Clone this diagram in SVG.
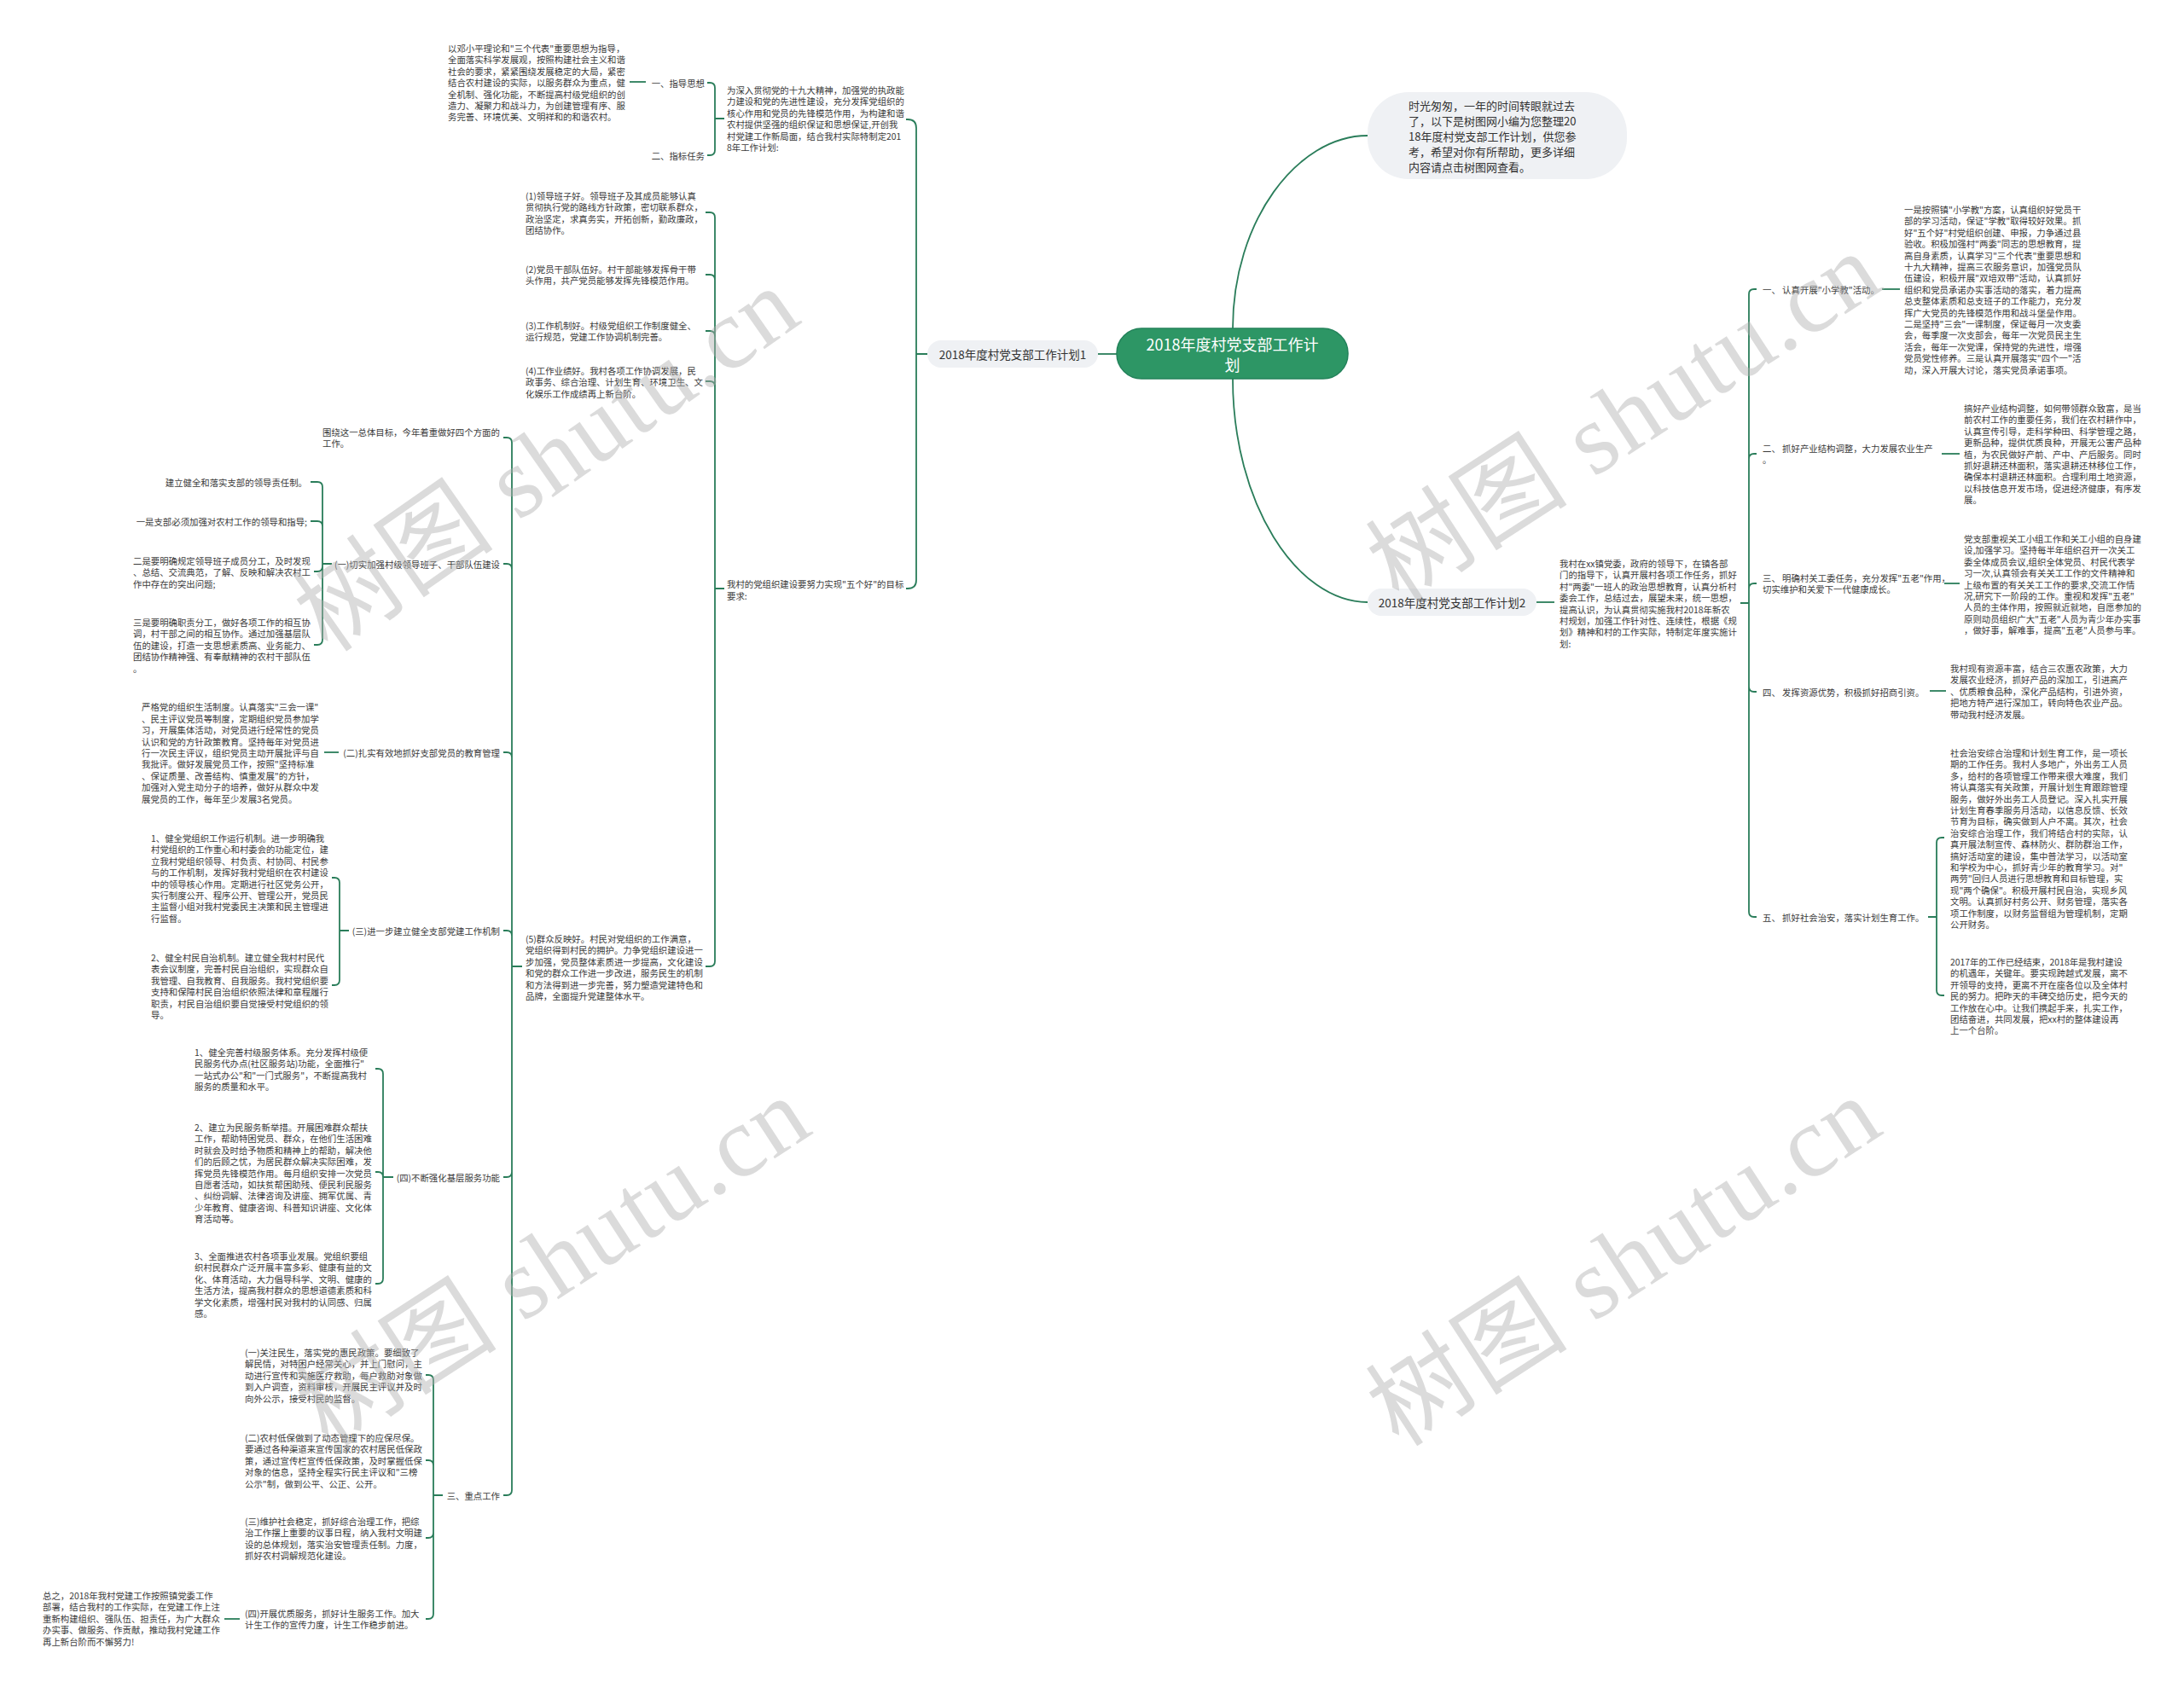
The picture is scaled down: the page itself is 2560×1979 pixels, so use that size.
<svg xmlns="http://www.w3.org/2000/svg" width="2560" height="1979" viewBox="0 0 2560 1979">
<style>
.t{font-family:"Noto Sans CJK SC","Noto Sans",sans-serif;font-size:10.4px;fill:#3a3a3a;dominant-baseline:central}
.e{text-anchor:end}
.m{text-anchor:middle}
.lb{font-size:13.5px;fill:#333}
.in{font-size:13px;fill:#333}
.ct{font-size:18px;fill:#ffffff}
.box{fill:#eff1f4}
.c path{fill:none;stroke:#2a7d5a;stroke-width:1.8}
.wm{font-family:"Liberation Serif","Noto Sans CJK SC",serif;font-size:118px;fill:#b0b0b0;fill-opacity:0.45}
</style>
<rect width="2560" height="1979" fill="#ffffff"/>

<g class="c" id="connectors">
<path d="M1445,385 C1445,260 1520,159 1603,159"/>
<path d="M1445,444 C1445,590 1520,706 1603,706"/>
<path d="M1287,415 H1309"/>
<path d="M1801,706 H1822"/>
<path d="M1062,140 H1064 Q1074,140 1074,150 V415 M1062,690 H1064 Q1074,690 1074,680 V415 M1087,415 H1074"/>
<path d="M829,97 H832 Q838,97 838,103 V139 M829,182 H832 Q838,182 838,176 V139 M849,139 H838"/>
<path d="M738,96 H757"/>
<path d="M827,249 H832 Q838,249 838,255 V690 M827,322 H832 Q838,322 838,328 V690 M827,388 H832 Q838,388 838,394 V690 M827,447 H832 Q838,447 838,453 V690 M827,1133 H832 Q838,1133 838,1127 V690 M849,690 H838"/>
<path d="M590,513 H594 Q600,513 600,519 V1133 M590,661 H594 Q600,661 600,667 V1133 M590,882 H594 Q600,882 600,888 V1133 M590,1091 H594 Q600,1091 600,1097 V1133 M590,1380 H594 Q600,1380 600,1374 V1133 M590,1753 H594 Q600,1753 600,1747 V1133 M612,1133 H600"/>
<path d="M364,565 H372 Q378,565 378,571 V661 M364,611 H372 Q378,611 378,617 V661 M368,670 H372 Q378,670 378,664 V661 M368,756 H372 Q378,756 378,750 V661 M389,661 H378"/>
<path d="M380,882 H397"/>
<path d="M389,1029 H392 Q398,1029 398,1035 V1091 M389,1155 H392 Q398,1155 398,1149 V1091 M409,1091 H398"/>
<path d="M440,1253 H443 Q449,1253 449,1259 V1380 M440,1374 H443 Q449,1374 449,1380 M440,1505 H443 Q449,1505 449,1499 V1380 M461,1380 H449"/>
<path d="M499,1612 H502 Q508,1612 508,1618 V1753 M499,1712 H502 Q508,1712 508,1718 V1753 M499,1803 H502 Q508,1803 508,1797 V1753 M499,1898 H502 Q508,1898 508,1892 V1753 M519,1753 H508"/>
<path d="M263,1898 H281"/>
<path d="M2059,339 H2056 Q2050,339 2050,345 V707 M2059,532 H2056 Q2050,532 2050,538 V707 M2059,684 H2056 Q2050,684 2050,690 V707 M2059,811 H2056 Q2050,811 2050,805 V707 M2059,1075 H2056 Q2050,1075 2050,1069 V707 M2040,707 H2050"/>
<path d="M2206,339 H2227"/>
<path d="M2276,532 H2297"/>
<path d="M2279,684 H2297"/>
<path d="M2262,810 H2281"/>
<path d="M2279,982 H2276 Q2270,982 2270,988 V1075 M2279,1167 H2276 Q2270,1167 2270,1161 V1075 M2260,1075 H2270"/>
</g>

<g id="n-center">
<rect x="1309" y="385" width="271" height="59" rx="29" fill="#2d9665" stroke="#23825a" stroke-width="1.5"/>
<text class="t ct m"><tspan x="1444.5" y="403">2018年度村党支部工作计</tspan><tspan x="1444.5" y="427">划</tspan></text>
</g>

<g id="n-intro">
<rect class="box" x="1603" y="108" width="304" height="102" rx="48"/>
<text class="t in"><tspan x="1651" y="123">时光匆匆，一年的时间转眼就过去</tspan><tspan x="1651" y="141">了，以下是树图网小编为您整理20</tspan><tspan x="1651" y="159">18年度村党支部工作计划，供您参</tspan><tspan x="1651" y="177">考，希望对你有所帮助，更多详细</tspan><tspan x="1651" y="195">内容请点击树图网查看。</tspan></text>
</g>

<g id="n-plan1">
<rect class="box" x="1087" y="399" width="200" height="32" rx="16"/>
<text class="t lb m" x="1187" y="415">2018年度村党支部工作计划1</text>
</g>

<g id="n-plan2">
<rect class="box" x="1603" y="690" width="198" height="32" rx="16"/>
<text class="t lb m" x="1702" y="706">2018年度村党支部工作计划2</text>
</g>

<g id="n-a">
<text class="t"><tspan x="852" y="105">为深入贯彻党的十九大精神，加强党的执政能</tspan><tspan x="852" y="118.4">力建设和党的先进性建设，充分发挥党组织的</tspan><tspan x="852" y="131.8">核心作用和党员的先锋模范作用，为构建和谐</tspan><tspan x="852" y="145.2">农村提供坚强的组织保证和思想保证,开创我</tspan><tspan x="852" y="158.6">村党建工作新局面，结合我村实际特制定201</tspan><tspan x="852" y="172">8年工作计划:</tspan></text>
</g>
<g id="n-a1"><text class="t e" x="826" y="97">一、指导思想</text></g>
<g id="n-a2"><text class="t e" x="826" y="182">二、指标任务</text></g>
<g id="n-a1c">
<text class="t"><tspan x="525" y="56">以邓小平理论和"三个代表"重要思想为指导，</tspan><tspan x="525" y="69.4">全面落实科学发展观，按照构建社会主义和谐</tspan><tspan x="525" y="82.8">社会的要求，紧紧围绕发展稳定的大局，紧密</tspan><tspan x="525" y="96.2">结合农村建设的实际，以服务群众为重点，健</tspan><tspan x="525" y="109.6">全机制、强化功能，不断提高村级党组织的创</tspan><tspan x="525" y="123">造力、凝聚力和战斗力，为创建管理有序、服</tspan><tspan x="525" y="136.4">务完善、环境优美、文明祥和的和谐农村。</tspan></text>
</g>

<g id="n-b">
<text class="t"><tspan x="852" y="684">我村的党组织建设要努力实现"五个好"的目标</tspan><tspan x="852" y="698">要求:</tspan></text>
</g>
<g id="n-b1">
<text class="t"><tspan x="616" y="229">(1)领导班子好。领导班子及其成员能够认真</tspan><tspan x="616" y="242.4">贯彻执行党的路线方针政策，密切联系群众，</tspan><tspan x="616" y="255.8">政治坚定，求真务实，开拓创新，勤政廉政，</tspan><tspan x="616" y="269.2">团结协作。</tspan></text>
</g>
<g id="n-b2">
<text class="t"><tspan x="616" y="315">(2)党员干部队伍好。村干部能够发挥骨干带</tspan><tspan x="616" y="328.4">头作用，共产党员能够发挥先锋模范作用。</tspan></text>
</g>
<g id="n-b3">
<text class="t"><tspan x="616" y="381">(3)工作机制好。村级党组织工作制度健全、</tspan><tspan x="616" y="394.4">运行规范，党建工作协调机制完善。</tspan></text>
</g>
<g id="n-b4">
<text class="t"><tspan x="616" y="434">(4)工作业绩好。我村各项工作协调发展，民</tspan><tspan x="616" y="447.4">政事务、综合治理、计划生育、环境卫生、文</tspan><tspan x="616" y="460.8">化娱乐工作成绩再上新台阶。</tspan></text>
</g>
<g id="n-b5">
<text class="t"><tspan x="616" y="1100">(5)群众反映好。村民对党组织的工作满意，</tspan><tspan x="616" y="1113.4">党组织得到村民的拥护。力争党组织建设进一</tspan><tspan x="616" y="1126.8">步加强，党员整体素质进一步提高，文化建设</tspan><tspan x="616" y="1140.2">和党的群众工作进一步改进，服务民生的机制</tspan><tspan x="616" y="1153.6">和方法得到进一步完善，努力塑造党建特色和</tspan><tspan x="616" y="1167">品牌，全面提升党建整体水平。</tspan></text>
</g>

<g id="n-c1">
<text class="t"><tspan x="378" y="506">围绕这一总体目标，今年着重做好四个方面的</tspan><tspan x="378" y="519.4">工作。</tspan></text>
</g>
<g id="n-c2"><text class="t e" x="586" y="661">(一)切实加强村级领导班子、干部队伍建设</text></g>
<g id="n-c2a"><text class="t e" x="360" y="565">建立健全和落实支部的领导责任制。</text></g>
<g id="n-c2b"><text class="t e" x="360" y="611">一是支部必须加强对农村工作的领导和指导;</text></g>
<g id="n-c2c">
<text class="t"><tspan x="156" y="657">二是要明确规定领导班子成员分工，及时发现</tspan><tspan x="156" y="670.4">、总结、交流典范，了解、反映和解决农村工</tspan><tspan x="156" y="683.8">作中存在的突出问题;</tspan></text>
</g>
<g id="n-c2d">
<text class="t"><tspan x="156" y="729">三是要明确职责分工，做好各项工作的相互协</tspan><tspan x="156" y="742.4">调，村干部之间的相互协作。通过加强基层队</tspan><tspan x="156" y="755.8">伍的建设，打造一支思想素质高、业务能力、</tspan><tspan x="156" y="769.2">团结协作精神强、有奉献精神的农村干部队伍</tspan><tspan x="156" y="782.6">。</tspan></text>
</g>

<g id="n-c3"><text class="t e" x="586" y="882">(二)扎实有效地抓好支部党员的教育管理</text></g>
<g id="n-c3a">
<text class="t"><tspan x="166" y="828.4">严格党的组织生活制度。认真落实"三会一课"</tspan><tspan x="166" y="841.8">、民主评议党员等制度，定期组织党员参加学</tspan><tspan x="166" y="855.2">习，开展集体活动，对党员进行经常性的党员</tspan><tspan x="166" y="868.6">认识和党的方针政策教育。坚持每年对党员进</tspan><tspan x="166" y="882">行一次民主评议，组织党员主动开展批评与自</tspan><tspan x="166" y="895.4">我批评。做好发展党员工作，按照"坚持标准</tspan><tspan x="166" y="908.8">、保证质量、改善结构、慎重发展"的方针，</tspan><tspan x="166" y="922.2">加强对入党主动分子的培养，做好从群众中发</tspan><tspan x="166" y="935.6">展党员的工作，每年至少发展3名党员。</tspan></text>
</g>

<g id="n-c4"><text class="t e" x="586" y="1091">(三)进一步建立健全支部党建工作机制</text></g>
<g id="n-c4a">
<text class="t"><tspan x="177" y="982">1、健全党组织工作运行机制。进一步明确我</tspan><tspan x="177" y="995.4">村党组织的工作重心和村委会的功能定位，建</tspan><tspan x="177" y="1008.8">立我村党组织领导、村负责、村协同、村民参</tspan><tspan x="177" y="1022.2">与的工作机制，发挥好我村党组织在农村建设</tspan><tspan x="177" y="1035.6">中的领导核心作用。定期进行社区党务公开，</tspan><tspan x="177" y="1049">实行制度公开、程序公开、管理公开，党员民</tspan><tspan x="177" y="1062.4">主监督小组对我村党委民主决策和民主管理进</tspan><tspan x="177" y="1075.8">行监督。</tspan></text>
</g>
<g id="n-c4b">
<text class="t"><tspan x="177" y="1122">2、健全村民自治机制。建立健全我村村民代</tspan><tspan x="177" y="1135.4">表会议制度，完善村民自治组织，实现群众自</tspan><tspan x="177" y="1148.8">我管理、自我教育、自我服务。我村党组织要</tspan><tspan x="177" y="1162.2">支持和保障村民自治组织依照法律和章程履行</tspan><tspan x="177" y="1175.6">职责，村民自治组织要自觉接受村党组织的领</tspan><tspan x="177" y="1189">导。</tspan></text>
</g>

<g id="n-c5"><text class="t e" x="586" y="1380">(四)不断强化基层服务功能</text></g>
<g id="n-c5a">
<text class="t"><tspan x="228" y="1233">1、健全完善村级服务体系。充分发挥村级便</tspan><tspan x="228" y="1246.4">民服务代办点(社区服务站)功能，全面推行"</tspan><tspan x="228" y="1259.8">一站式办公"和"一门式服务"，不断提高我村</tspan><tspan x="228" y="1273.2">服务的质量和水平。</tspan></text>
</g>
<g id="n-c5b">
<text class="t"><tspan x="228" y="1321">2、建立为民服务新举措。开展困难群众帮扶</tspan><tspan x="228" y="1334.4">工作，帮助特困党员、群众，在他们生活困难</tspan><tspan x="228" y="1347.8">时就会及时给予物质和精神上的帮助，解决他</tspan><tspan x="228" y="1361.2">们的后顾之忧，为居民群众解决实际困难，发</tspan><tspan x="228" y="1374.6">挥党员先锋模范作用。每月组织安排一次党员</tspan><tspan x="228" y="1388">自愿者活动，如扶贫帮困助残、便民利民服务</tspan><tspan x="228" y="1401.4">、纠纷调解、法律咨询及讲座、拥军优属、青</tspan><tspan x="228" y="1414.8">少年教育、健康咨询、科普知识讲座、文化体</tspan><tspan x="228" y="1428.2">育活动等。</tspan></text>
</g>
<g id="n-c5c">
<text class="t"><tspan x="228" y="1472">3、全面推进农村各项事业发展。党组织要组</tspan><tspan x="228" y="1485.4">织村民群众广泛开展丰富多彩、健康有益的文</tspan><tspan x="228" y="1498.8">化、体育活动，大力倡导科学、文明、健康的</tspan><tspan x="228" y="1512.2">生活方法，提高我村群众的思想道德素质和科</tspan><tspan x="228" y="1525.6">学文化素质，增强村民对我村的认同感、归属</tspan><tspan x="228" y="1539">感。</tspan></text>
</g>

<g id="n-c6"><text class="t e" x="586" y="1753">三、重点工作</text></g>
<g id="n-c6a">
<text class="t"><tspan x="287" y="1585">(一)关注民生，落实党的惠民政策。要细致了</tspan><tspan x="287" y="1598.4">解民情，对特困户经常关心，并上门慰问，主</tspan><tspan x="287" y="1611.8">动进行宣传和实施医疗救助，每户救助对象做</tspan><tspan x="287" y="1625.2">到入户调查，资料审核，开展民主评议并及时</tspan><tspan x="287" y="1638.6">向外公示，接受村民的监督。</tspan></text>
</g>
<g id="n-c6b">
<text class="t"><tspan x="287" y="1685">(二)农村低保做到了动态管理下的应保尽保。</tspan><tspan x="287" y="1698.4">要通过各种渠道来宣传国家的农村居民低保政</tspan><tspan x="287" y="1711.8">策，通过宣传栏宣传低保政策，及时掌握低保</tspan><tspan x="287" y="1725.2">对象的信息，坚持全程实行民主评议和"三榜</tspan><tspan x="287" y="1738.6">公示"制，做到公平、公正、公开。</tspan></text>
</g>
<g id="n-c6c">
<text class="t"><tspan x="287" y="1783">(三)维护社会稳定，抓好综合治理工作，把综</tspan><tspan x="287" y="1796.4">治工作摆上重要的议事日程，纳入我村文明建</tspan><tspan x="287" y="1809.8">设的总体规划，落实治安管理责任制。力度，</tspan><tspan x="287" y="1823.2">抓好农村调解规范化建设。</tspan></text>
</g>
<g id="n-c6d">
<text class="t"><tspan x="287" y="1891">(四)开展优质服务，抓好计生服务工作。加大</tspan><tspan x="287" y="1904.4">计生工作的宣传力度，计生工作稳步前进。</tspan></text>
</g>
<g id="n-c6e">
<text class="t"><tspan x="50" y="1870">总之，2018年我村党建工作按照镇党委工作</tspan><tspan x="50" y="1883.4">部署，结合我村的工作实际，在党建工作上注</tspan><tspan x="50" y="1896.8">重新构建组织、强队伍、担责任，为广大群众</tspan><tspan x="50" y="1910.2">办实事、做服务、作贡献，推动我村党建工作</tspan><tspan x="50" y="1923.6">再上新台阶而不懈努力!</tspan></text>
</g>

<g id="n-r">
<text class="t"><tspan x="1828" y="660">我村在xx镇党委，政府的领导下，在镇各部</tspan><tspan x="1828" y="673.4">门的指导下，认真开展村各项工作任务，抓好</tspan><tspan x="1828" y="686.8">村"两委"一班人的政治思想教育，认真分析村</tspan><tspan x="1828" y="700.2">委会工作，总结过去，展望未来，统一思想，</tspan><tspan x="1828" y="713.6">提高认识，为认真贯彻实施我村2018年新农</tspan><tspan x="1828" y="727">村规划，加强工作针对性、连续性，根据《规</tspan><tspan x="1828" y="740.4">划》精神和村的工作实际，特制定年度实施计</tspan><tspan x="1828" y="753.8">划:</tspan></text>
</g>
<g id="n-r1"><text class="t" x="2066" y="339">一、 认真开展"小学教"活动。</text></g>
<g id="n-r1a">
<text class="t"><tspan x="2232" y="245">一是按照镇"小学教"方案，认真组织好党员干</tspan><tspan x="2232" y="258.4">部的学习活动，保证"学教"取得较好效果。抓</tspan><tspan x="2232" y="271.8">好"五个好"村党组织创建、申报，力争通过县</tspan><tspan x="2232" y="285.2">验收。积极加强村"两委"同志的思想教育，提</tspan><tspan x="2232" y="298.6">高自身素质，认真学习"三个代表"重要思想和</tspan><tspan x="2232" y="312">十九大精神，提高三农服务意识，加强党员队</tspan><tspan x="2232" y="325.4">伍建设，积极开展"双培双带"活动，认真抓好</tspan><tspan x="2232" y="338.8">组织和党员承诺办实事活动的落实，着力提高</tspan><tspan x="2232" y="352.2">总支整体素质和总支班子的工作能力，充分发</tspan><tspan x="2232" y="365.6">挥广大党员的先锋模范作用和战斗堡垒作用。</tspan><tspan x="2232" y="379">二是坚持"三会"一课制度，保证每月一次支委</tspan><tspan x="2232" y="392.4">会，每季度一次支部会，每年一次党员民主生</tspan><tspan x="2232" y="405.8">活会，每年一次党课，保持党的先进性，增强</tspan><tspan x="2232" y="419.2">党员党性修养。三是认真开展落实"四个一"活</tspan><tspan x="2232" y="432.6">动，深入开展大讨论，落实党员承诺事项。</tspan></text>
</g>
<g id="n-r2">
<text class="t"><tspan x="2066" y="525">二、 抓好产业结构调整，大力发展农业生产</tspan><tspan x="2066" y="538.4">。</tspan></text>
</g>
<g id="n-r2a">
<text class="t"><tspan x="2302" y="478">搞好产业结构调整，如何带领群众致富，是当</tspan><tspan x="2302" y="491.4">前农村工作的重要任务，我们在农村耕作中，</tspan><tspan x="2302" y="504.8">认真宣传引导，走科学种田、科学管理之路，</tspan><tspan x="2302" y="518.2">更新品种，提供优质良种，开展无公害产品种</tspan><tspan x="2302" y="531.6">植，为农民做好产前、产中、产后服务。同时</tspan><tspan x="2302" y="545">抓好退耕还林面积，落实退耕还林移位工作，</tspan><tspan x="2302" y="558.4">确保本村退耕还林面积。合理利用土地资源，</tspan><tspan x="2302" y="571.8">以科技信息开发市场，促进经济健康，有序发</tspan><tspan x="2302" y="585.2">展。</tspan></text>
</g>
<g id="n-r3">
<text class="t"><tspan x="2066" y="677">三、 明确村关工委任务，充分发挥"五老"作用，</tspan><tspan x="2066" y="690.4">切实维护和关爱下一代健康成长。</tspan></text>
</g>
<g id="n-r3a">
<text class="t"><tspan x="2302" y="631">党支部重视关工小组工作和关工小组的自身建</tspan><tspan x="2302" y="644.4">设,加强学习。坚持每半年组织召开一次关工</tspan><tspan x="2302" y="657.8">委全体成员会议,组织全体党员、村民代表学</tspan><tspan x="2302" y="671.2">习一次,认真领会有关关工工作的文件精神和</tspan><tspan x="2302" y="684.6">上级布置的有关关工工作的要求,交流工作情</tspan><tspan x="2302" y="698">况,研究下一阶段的工作。重视和发挥"五老"</tspan><tspan x="2302" y="711.4">人员的主体作用，按照就近就地，自愿参加的</tspan><tspan x="2302" y="724.8">原则动员组织广大"五老"人员为青少年办实事</tspan><tspan x="2302" y="738.2">，做好事，解难事，提高"五老"人员参与率。</tspan></text>
</g>
<g id="n-r4"><text class="t" x="2066" y="811">四、 发挥资源优势，积极抓好招商引资。</text></g>
<g id="n-r4a">
<text class="t"><tspan x="2286" y="783">我村现有资源丰富，结合三农惠农政策，大力</tspan><tspan x="2286" y="796.4">发展农业经济，抓好产品的深加工，引进高产</tspan><tspan x="2286" y="809.8">、优质粮食品种，深化产品结构，引进外资，</tspan><tspan x="2286" y="823.2">把地方特产进行深加工，转向特色农业产品。</tspan><tspan x="2286" y="836.6">带动我村经济发展。</tspan></text>
</g>
<g id="n-r5"><text class="t" x="2066" y="1075">五、 抓好社会治安，落实计划生育工作。</text></g>
<g id="n-r5a">
<text class="t"><tspan x="2286" y="882">社会治安综合治理和计划生育工作，是一项长</tspan><tspan x="2286" y="895.4">期的工作任务。我村人多地广，外出务工人员</tspan><tspan x="2286" y="908.8">多，给村的各项管理工作带来很大难度，我们</tspan><tspan x="2286" y="922.2">将认真落实有关政策，开展计划生育跟踪管理</tspan><tspan x="2286" y="935.6">服务，做好外出务工人员登记。深入扎实开展</tspan><tspan x="2286" y="949">计划生育春季服务月活动，以信息反馈、长效</tspan><tspan x="2286" y="962.4">节育为目标，确实做到人户不离。其次，社会</tspan><tspan x="2286" y="975.8">治安综合治理工作，我们将结合村的实际，认</tspan><tspan x="2286" y="989.2">真开展法制宣传、森林防火、群防群治工作，</tspan><tspan x="2286" y="1002.6">搞好活动室的建设，集中普法学习，以活动室</tspan><tspan x="2286" y="1016">和学校为中心，抓好青少年的教育学习。对"</tspan><tspan x="2286" y="1029.4">两劳"回归人员进行思想教育和目标管理，实</tspan><tspan x="2286" y="1042.8">现"两个确保"。积极开展村民自治，实现乡风</tspan><tspan x="2286" y="1056.2">文明。认真抓好村务公开、财务管理，落实各</tspan><tspan x="2286" y="1069.6">项工作制度，以财务监督组为管理机制，定期</tspan><tspan x="2286" y="1083">公开财务。</tspan></text>
</g>
<g id="n-r5b">
<text class="t"><tspan x="2286" y="1127">2017年的工作已经结束，2018年是我村建设</tspan><tspan x="2286" y="1140.4">的机遇年，关键年。要实现跨越式发展，离不</tspan><tspan x="2286" y="1153.8">开领导的支持，更离不开在座各位以及全体村</tspan><tspan x="2286" y="1167.2">民的努力。把昨天的丰碑交给历史，把今天的</tspan><tspan x="2286" y="1180.6">工作放在心中。让我们携起手来，扎实工作，</tspan><tspan x="2286" y="1194">团结奋进，共同发展，把xx村的整体建设再</tspan><tspan x="2286" y="1207.4">上一个台阶。</tspan></text>
</g>

<g id="watermarks">
<text class="wm" transform="translate(385,767) rotate(-35)" textLength="680" lengthAdjust="spacing">树图 shutu.cn</text>
<text class="wm" transform="translate(1640,708) rotate(-33)" textLength="680" lengthAdjust="spacing">树图 shutu.cn</text>
<text class="wm" transform="translate(385,1698) rotate(-33)" textLength="680" lengthAdjust="spacing">树图 shutu.cn</text>
<text class="wm" transform="translate(1640,1698) rotate(-33)" textLength="680" lengthAdjust="spacing">树图 shutu.cn</text>
</g>
</svg>
